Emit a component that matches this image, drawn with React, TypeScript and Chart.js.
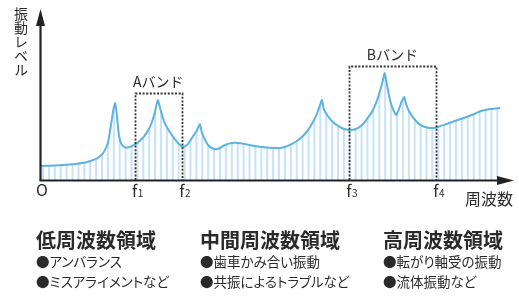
import React, { useEffect, useRef } from "react";
import { Chart, registerables } from "chart.js";

Chart.register(...registerables);

// Frequency (arbitrary units 0..100) and vibration level (0..100)
const curveFreq = [
  0, 3.2, 6.3, 8.9, 11.0, 12.5, 13.5, 14.4, 15.0, 15.5, 15.9, 16.2, 16.6, 17.1, 17.8, 18.6, 19.7,
  21.1, 22.4, 23.5, 24.3, 24.9, 25.5, 26.2, 27.3, 28.5, 29.6, 30.2, 31.1, 32.1, 33.1, 33.8, 34.2,
  34.9, 35.7, 36.8, 37.8, 39.1, 40.6, 42.7, 44.8, 46.9, 49.7, 51.4, 53.3, 55.0, 56.5, 57.7, 58.6,
  59.2, 59.6, 60.0, 60.7, 61.7, 63.0, 64.3, 65.5, 66.8, 68.1, 69.3, 70.4, 71.5, 72.3, 72.9, 73.4,
  74.0, 74.6, 75.3, 75.9, 76.5, 77.0, 77.4, 78.0, 79.1, 80.3, 81.8, 83.1, 84.1, 85.6, 87.7, 89.9,
  91.8, 93.2, 94.7, 97.3,
];
const curveLevel = [
  8.2, 8.5, 9.1, 10.0, 11.5, 13.5, 16.5, 22.4, 32.4, 41.2, 45.3, 39.4, 28.2, 21.8, 19.4, 19.1, 20.3,
  22.9, 27.1, 32.9, 40.0, 47.1, 41.2, 34.7, 28.8, 24.1, 20.6, 19.4, 20.6, 24.7, 28.8, 32.9, 28.2,
  23.5, 20.0, 18.2, 18.5, 20.6, 21.8, 21.5, 20.3, 19.4, 18.8, 19.1, 21.2, 24.4, 28.8, 34.1, 39.4,
  44.1, 47.1, 41.8, 38.2, 34.7, 31.8, 30.0, 29.4, 30.0, 32.4, 36.5, 41.2, 48.8, 56.5, 62.9, 55.3,
  47.1, 41.8, 38.2, 41.8, 46.5, 48.8, 44.7, 40.6, 35.9, 32.6, 30.9, 30.6, 31.2, 32.6, 34.7, 36.8,
  38.8, 40.6, 41.5, 42.4,
];

const tickValues = [0, 20, 30, 65.3, 83.7];
const tickMain = ["O", "f", "f", "f", "f"];
const tickSub = ["", "1", "2", "3", "4"];

const bandStart = [20, 65.3];
const bandEnd = [30, 83.7];
const bandTop = [51.2, 67];
const bandLabels = ["Aバンド", "Bバンド"];

const xAxisTitle = "周波数";
const yAxisTitle = "振動レベル";

const regionTitles = ["低周波数領域", "中間周波数領域", "高周波数領域"];
const regionItems = [
  ["●アンバランス", "●ミスアライメントなど"],
  ["●歯車かみ合い振動", "●共振によるトラブルなど"],
  ["●転がり軸受の振動", "●流体振動など"],
];

const FONT = "'Noto Sans CJK JP', 'Noto Sans', sans-serif";
const INK = "#2a2a2a";

const overlayPlugin = {
  id: "overlay",
  afterDatasetsDraw(chart: any) {
    const { ctx, chartArea: a, scales } = chart;
    const x = scales.x;
    const y = scales.y;
    ctx.save();

    // dotted band boxes
    ctx.strokeStyle = "#333";
    ctx.lineWidth = 1.8;
    ctx.setLineDash([2, 1.6]);
    bandStart.forEach((s, i) => {
      const l = Math.round(x.getPixelForValue(s)) + 0.5;
      const r = Math.round(x.getPixelForValue(bandEnd[i])) + 0.5;
      const t = Math.round(y.getPixelForValue(bandTop[i])) + 0.5;
      ctx.beginPath();
      ctx.moveTo(l, a.bottom);
      ctx.lineTo(l, t);
      ctx.lineTo(r, t);
      ctx.lineTo(r, a.bottom);
      ctx.stroke();
    });
    ctx.setLineDash([]);

    // band labels
    ctx.fillStyle = INK;
    ctx.font = `14px ${FONT}`;
    ctx.textAlign = "center";
    ctx.textBaseline = "alphabetic";
    bandStart.forEach((s, i) => {
      const cx = (x.getPixelForValue(s) + x.getPixelForValue(bandEnd[i])) / 2;
      const t = y.getPixelForValue(bandTop[i]);
      ctx.fillText(bandLabels[i], cx, t - 6);
    });

    // axes
    ctx.strokeStyle = "#222";
    ctx.fillStyle = "#222";
    ctx.lineWidth = 2.2;
    const ax = a.left + 0.5;
    const ay = a.bottom + 0.5;
    ctx.beginPath();
    ctx.moveTo(ax, ay);
    ctx.lineTo(ax, a.top + 12);
    ctx.stroke();
    ctx.beginPath();
    ctx.moveTo(ax, a.top - 1);
    ctx.lineTo(ax - 4.5, a.top + 16);
    ctx.lineTo(ax + 4.5, a.top + 16);
    ctx.closePath();
    ctx.fill();

    ctx.beginPath();
    ctx.moveTo(ax - 1, ay);
    ctx.lineTo(a.right - 12, ay);
    ctx.stroke();
    ctx.beginPath();
    ctx.moveTo(a.right + 1, ay);
    ctx.lineTo(a.right - 16, ay - 4.5);
    ctx.lineTo(a.right - 16, ay + 4.5);
    ctx.closePath();
    ctx.fill();

    // tick labels
    ctx.fillStyle = INK;
    tickValues.forEach((v, i) => {
      const px = x.getPixelForValue(v);
      if (tickSub[i] === "") {
        ctx.font = `16px ${FONT}`;
        ctx.textAlign = "center";
        ctx.fillText(tickMain[i], px + 2, a.bottom + 16);
      } else {
        ctx.font = `16px ${FONT}`;
        ctx.textAlign = "center";
        ctx.fillText(tickMain[i], px, a.bottom + 17);
        const w = ctx.measureText(tickMain[i]).width;
        ctx.font = `10px ${FONT}`;
        ctx.textAlign = "left";
        ctx.fillText(tickSub[i], px + w / 2 + 0.5, a.bottom + 17);
      }
    });

    // x axis title
    ctx.font = `16px ${FONT}`;
    ctx.textAlign = "left";
    ctx.textBaseline = "middle";
    ctx.fillText(xAxisTitle, a.right - 48, a.bottom + 19);

    ctx.restore();
  },
};

export default function App() {
  const canvasRef = useRef<HTMLCanvasElement | null>(null);

  useEffect(() => {
    const canvas = canvasRef.current;
    if (!canvas) return;
    const ctx = canvas.getContext("2d")!;

    // vertical stripe pattern used for the area under the spectrum
    const tile = document.createElement("canvas");
    tile.width = 59;
    tile.height = 4;
    const tctx = tile.getContext("2d")!;
    tctx.fillStyle = "#c8e3f5";
    for (let k = 0; k < 10; k++) tctx.fillRect(0.7 + 5.9 * k, 0, 2, 4);
    const pattern = ctx.createPattern(tile, "repeat");

    const chart = new Chart(ctx, {
      type: "line",
      data: {
        datasets: [
          {
            data: curveFreq.map((f, i) => ({ x: f, y: curveLevel[i] })),
            borderColor: "#5cb3e0",
            borderWidth: 2,
            pointRadius: 0,
            tension: 0.15,
            fill: "origin",
            backgroundColor: pattern as any,
          },
        ],
      },
      options: {
        responsive: false,
        maintainAspectRatio: false,
        animation: false,
        layout: { padding: { left: 40, right: 6, top: 10, bottom: 119 } },
        plugins: { legend: { display: false }, tooltip: { enabled: false } },
        scales: {
          x: { type: "linear", min: 0, max: 100, display: false },
          y: { type: "linear", min: 0, max: 100, display: false },
        },
      },
      plugins: [overlayPlugin],
    });
    return () => chart.destroy();
  }, []);

  const colLeft = [36, 200, 383];

  return (
    <div
      style={{
        position: "fixed",
        left: 0,
        top: 0,
        width: 519,
        height: 299,
        background: "#fff",
        overflow: "hidden",
        fontFamily: FONT,
        color: INK,
      }}
    >
      <canvas ref={canvasRef} width={519} height={299} style={{ position: "absolute", left: 0, top: 0 }} />
      <div
        style={{
          position: "absolute",
          left: 13,
          top: 7,
          writingMode: "vertical-rl",
          fontSize: 14,
          lineHeight: "16px",
          whiteSpace: "nowrap",
        }}
      >
        {yAxisTitle}
      </div>
      {regionTitles.map((t, i) => (
        <div
          key={t}
          style={{
            position: "absolute",
            left: colLeft[i],
            top: 230,
            fontSize: 20,
            lineHeight: "20px",
            fontWeight: 700,
            whiteSpace: "nowrap",
          }}
        >
          {t}
        </div>
      ))}
      {regionItems.map((items, i) =>
        items.map((s, j) => (
          <div
            key={s}
            style={{
              position: "absolute",
              left: colLeft[i],
              top: 254.5 + j * 20,
              fontSize: 13.5,
              lineHeight: "13.5px",
              whiteSpace: "nowrap",
              fontFeatureSettings: '"palt"',
            }}
          >
            {s}
          </div>
        ))
      )}
    </div>
  );
}
